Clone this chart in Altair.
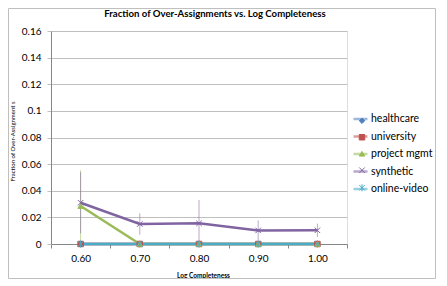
import altair as alt
import pandas as pd

# ---- data ----
x_labels = ["0.60", "0.70", "0.80", "0.90", "1.00"]
series_names = ["healthcare", "university", "project mgmt", "synthetic", "online-video"]
healthcare = [0, 0, 0, 0, 0]
university = [0, 0, 0, 0, 0]
project_mgmt = [0.0285, 0, 0, 0, 0]
synthetic = [0.031, 0.015, 0.0155, 0.0102, 0.0103]
online_video = [0, 0, 0, 0, 0]
healthcare_err = [0, 0, 0, 0, 0]
university_err = [0, 0, 0, 0, 0]
project_mgmt_err = [0.027, 0, 0, 0, 0]
synthetic_err = [0.023, 0.008, 0.0175, 0.0075, 0.005]
online_video_err = [0, 0, 0, 0, 0]
y_ticks = [0, 0.02, 0.04, 0.06, 0.08, 0.10, 0.12, 0.14, 0.16]

colors = ["#4F81BD", "#C0504D", "#9BBB59", "#8064A2", "#4BACC6"]
shapes = ["diamond", "square", "triangle-up",
          "M-1,-1L1,1M-1,1L1,-1",
          "M-1,-1L1,1M-1,1L1,-1M0,-1.3L0,1.3"]

vals = [healthcare, university, project_mgmt, synthetic, online_video]
errs = [healthcare_err, university_err, project_mgmt_err, synthetic_err, online_video_err]
rows = []
for name, v, e in zip(series_names, vals, errs):
    for xl, vi, ei in zip(x_labels, v, e):
        rows.append({"x": xl, "series": name, "series2": name,
                     "value": vi, "lo": vi - ei, "hi": vi + ei, "err": ei})
df = pd.DataFrame(rows)

W, H = 296, 213
FONT = "Lato"
GRID = "#BFBFBF"
AXIS = "#868686"

xenc = alt.X("x:N", sort=x_labels, bandPosition=0.5,
             scale=alt.Scale(type="band", paddingInner=0, paddingOuter=0),
             axis=alt.Axis(title="Log Completeness", tickBand="extent", tickSize=4,
                           tickColor=AXIS, domainColor=AXIS, labelAngle=0,
                           labelFont=FONT, labelFontSize=10, labelColor="#000000",
                           labelBaseline="middle", labelPadding=10,
                           titleFont=FONT, titleFontSize=6.5, titleFontWeight="bold",
                           titleColor="#000000", titleBaseline="middle",
                           titleX=152, titleY=31.5, grid=False))
yscale = alt.Scale(domain=[0, 0.16])
yaxis = alt.Axis(title="Fraction of Over-Assignment s", values=y_ticks, format=".2~f",
                 tickSize=4, tickColor=GRID, domainColor=AXIS, gridColor=GRID,
                 labelFont=FONT, labelFontSize=10, labelColor="#000000", labelPadding=6,
                 titleFont=FONT, titleFontSize=6, titleFontWeight="normal",
                 titleColor="#000000", titleAngle=270, titleAlign="center",
                 titleBaseline="middle", titleX=-39, titleY=110)

LX, LY = 301, 79.5
ROWPAD = 3.5
line_legend = alt.Legend(title=None, orient="none", legendX=LX, legendY=LY,
                         symbolType="stroke", symbolSize=196, symbolStrokeWidth=2.5,
                         labelFont=FONT, labelFontSize=10.5, labelColor="#000000",
                         labelOffset=2, rowPadding=ROWPAD, padding=0)
pt_legend = alt.Legend(title=None, orient="none", legendX=LX + 4.75, legendY=LY + 5,
                       symbolSize=30, symbolStrokeWidth=1,
                       labelFont=FONT, labelFontSize=10.5, labelExpr="''",
                       labelOffset=0, rowPadding=ROWPAD + 2, padding=0)

color_enc = alt.Color("series:N", sort=series_names, scale=alt.Scale(range=colors),
                      legend=line_legend)

base = alt.Chart(df)

rules = base.mark_rule(strokeWidth=1, opacity=0.55, clip=True).encode(
    x=xenc, y=alt.Y("lo:Q", scale=yscale, axis=yaxis), y2="hi:Q", color=color_enc
).transform_filter("datum.err > 0")

lines = base.mark_line(strokeWidth=2.5).encode(
    x=xenc, y=alt.Y("value:Q", scale=yscale, axis=yaxis), color=color_enc
)

points = base.mark_point(filled=True, size=30, strokeWidth=1, opacity=1).encode(
    x=xenc, y=alt.Y("value:Q", scale=yscale, axis=yaxis),
    shape=alt.Shape("series2:N", scale=alt.Scale(domain=series_names, range=shapes), legend=pt_legend),
    fill=alt.Fill("series2:N", scale=alt.Scale(domain=series_names, range=colors), legend=pt_legend),
    stroke=alt.Stroke("series2:N", scale=alt.Scale(domain=series_names, range=colors), legend=pt_legend),
)

border = alt.Chart(pd.DataFrame({"a": [0]})).mark_rect(
    fill=None, stroke="#BFBFBF", strokeWidth=1
).encode(x=alt.value(-42.5), x2=alt.value(W + 88.5), y=alt.value(-22.5), y2=alt.value(H + 34.5))

chart = alt.layer(border, rules, lines, points).properties(
    width=W, height=H,
    title=alt.TitleParams("Fraction of Over-Assignments vs. Log Completeness",
                          font=FONT, fontSize=9.6, fontWeight="bold", color="#000000",
                          anchor="middle", frame="group", dx=16, offset=-10.5),
    autosize=alt.AutoSizeParams(type="none"),
    padding={"left": 43, "top": 23, "right": 92, "bottom": 35},
).configure_view(stroke=None).configure(background="#FFFFFF")

chart.save("out.html", embed_options={"renderer": "svg", "actions": False})
